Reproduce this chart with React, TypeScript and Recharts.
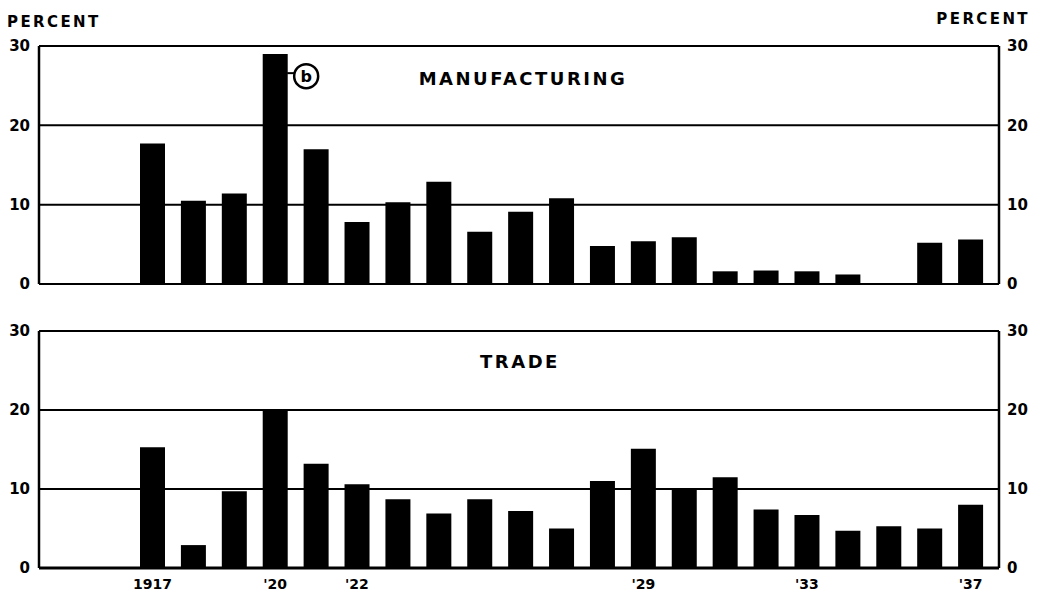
import React from 'react';
import { BarChart, Bar, XAxis, YAxis, CartesianGrid, ReferenceDot } from 'recharts';

const years = [1917, 1918, 1919, 1920, 1921, 1922, 1923, 1924, 1925, 1926, 1927, 1928, 1929, 1930, 1931, 1932, 1933, 1934, 1935, 1936, 1937];
const manufacturing = [17.7, 10.5, 11.4, 29.0, 17.0, 7.8, 10.3, 12.9, 6.6, 9.1, 10.8, 4.8, 5.4, 5.9, 1.6, 1.7, 1.6, 1.2, -0.4, 5.2, 5.6];
const trade = [15.3, 2.9, 9.7, 20.0, 13.2, 10.6, 8.7, 6.9, 8.7, 7.2, 5.0, 11.0, 15.1, 10.0, 11.5, 7.4, 6.7, 4.7, 5.3, 5.0, 8.0];
const yTicks = [0, 10, 20, 30];
const xTickLabels: Record<number, string> = { 1917: '1917', 1920: "'20", 1922: "'22", 1929: "'29", 1933: "'33", 1937: "'37" };

const mfgData = years.map((year, i) => ({ year, value: manufacturing[i] }));
const tradeData = years.map((year, i) => ({ year, value: trade[i] }));

const FONT = '"DejaVu Sans", "Liberation Sans", sans-serif';
const yTickStyle = { fill: '#000', fontSize: 15, fontWeight: 700, fontFamily: FONT };
const xTickStyle = { fill: '#000', fontSize: 14, fontWeight: 700, fontFamily: FONT };

const BAnnotation = (props: any) => {
  const { cx, cy } = props;
  if (cx == null || cy == null) return null;
  return (
    <g>
      <line x1={cx + 12} y1={cy - 3} x2={cx + 19} y2={cy - 3} stroke="#000" strokeWidth={2} />
      <circle cx={cx + 31} cy={cy} r={12} fill="#fff" stroke="#000" strokeWidth={2.5} />
      <text x={cx + 31} y={cy + 6} textAnchor="middle" fontSize={16} fontWeight={700} fontFamily={FONT} fill="#000">b</text>
    </g>
  );
};

function Panel({ data, height, top, bottomAxisHeight, showTicks, annotate }: any) {
  return (
    <BarChart
      width={1046}
      height={height}
      data={data}
      margin={{ top, right: 0, bottom: showTicks ? 0 : 16, left: 0 }}
      barSize={25}
    >
      <CartesianGrid yAxisId="left" vertical={false} stroke="#000" strokeWidth={2} />
      <XAxis
        dataKey="year"
        type="category"
        interval={0}
        padding={{ left: 93, right: 8 }}
        height={bottomAxisHeight}
        axisLine={{ stroke: '#000', strokeWidth: 3 }}
        tickLine={false}
        tickSize={0}
        tickMargin={11}
        tick={showTicks ? xTickStyle : false}
        tickFormatter={(y: number) => xTickLabels[y] ?? ''}
      />
      <YAxis
        yAxisId="left"
        orientation="left"
        width={39}
        domain={[0, 30]}
        ticks={yTicks}
        allowDataOverflow
        axisLine={{ stroke: '#000', strokeWidth: 2.5 }}
        tickLine={false}
        tickSize={0}
        tickMargin={9}
        tick={yTickStyle}
      />
      <YAxis
        yAxisId="right"
        orientation="right"
        width={47}
        domain={[0, 30]}
        ticks={yTicks}
        allowDataOverflow
        axisLine={{ stroke: '#000', strokeWidth: 2.5 }}
        tickLine={false}
        tickSize={0}
        tickMargin={8}
        tick={yTickStyle}
      />
      <Bar yAxisId="left" dataKey="value" fill="#000" isAnimationActive={false} />
      {annotate ? (
        <ReferenceDot yAxisId="left" x={1920} y={26.2} r={0} shape={BAnnotation} />
      ) : null}
    </BarChart>
  );
}

export default function App() {
  return (
    <div style={{ position: 'absolute', left: 0, top: 0, width: 1046, height: 595, background: '#fff', overflow: 'hidden' }}>
      <div style={{ position: 'absolute', left: 0, top: 0 }}>
        <Panel data={mfgData} height={300} top={46} bottomAxisHeight={0} showTicks={false} annotate />
      </div>
      <div style={{ position: 'absolute', left: 0, top: 300 }}>
        <Panel data={tradeData} height={295} top={31} bottomAxisHeight={27} showTicks annotate={false} />
      </div>
      <svg width={1046} height={595} style={{ position: 'absolute', left: 0, top: 0, pointerEvents: 'none' }}>
        <text x={7} y={27} fontSize={15} fontWeight={700} fontFamily={FONT} letterSpacing={2.4} fill="#000">PERCENT</text>
        <text x={1030} y={24} textAnchor="end" fontSize={15} fontWeight={700} fontFamily={FONT} letterSpacing={2.4} fill="#000">PERCENT</text>
        <text x={523} y={85} textAnchor="middle" fontSize={18} fontWeight={700} fontFamily={FONT} letterSpacing={2.5} fill="#000">MANUFACTURING</text>
        <text x={520} y={368} textAnchor="middle" fontSize={18} fontWeight={700} fontFamily={FONT} letterSpacing={2.5} fill="#000">TRADE</text>
      </svg>
    </div>
  );
}
